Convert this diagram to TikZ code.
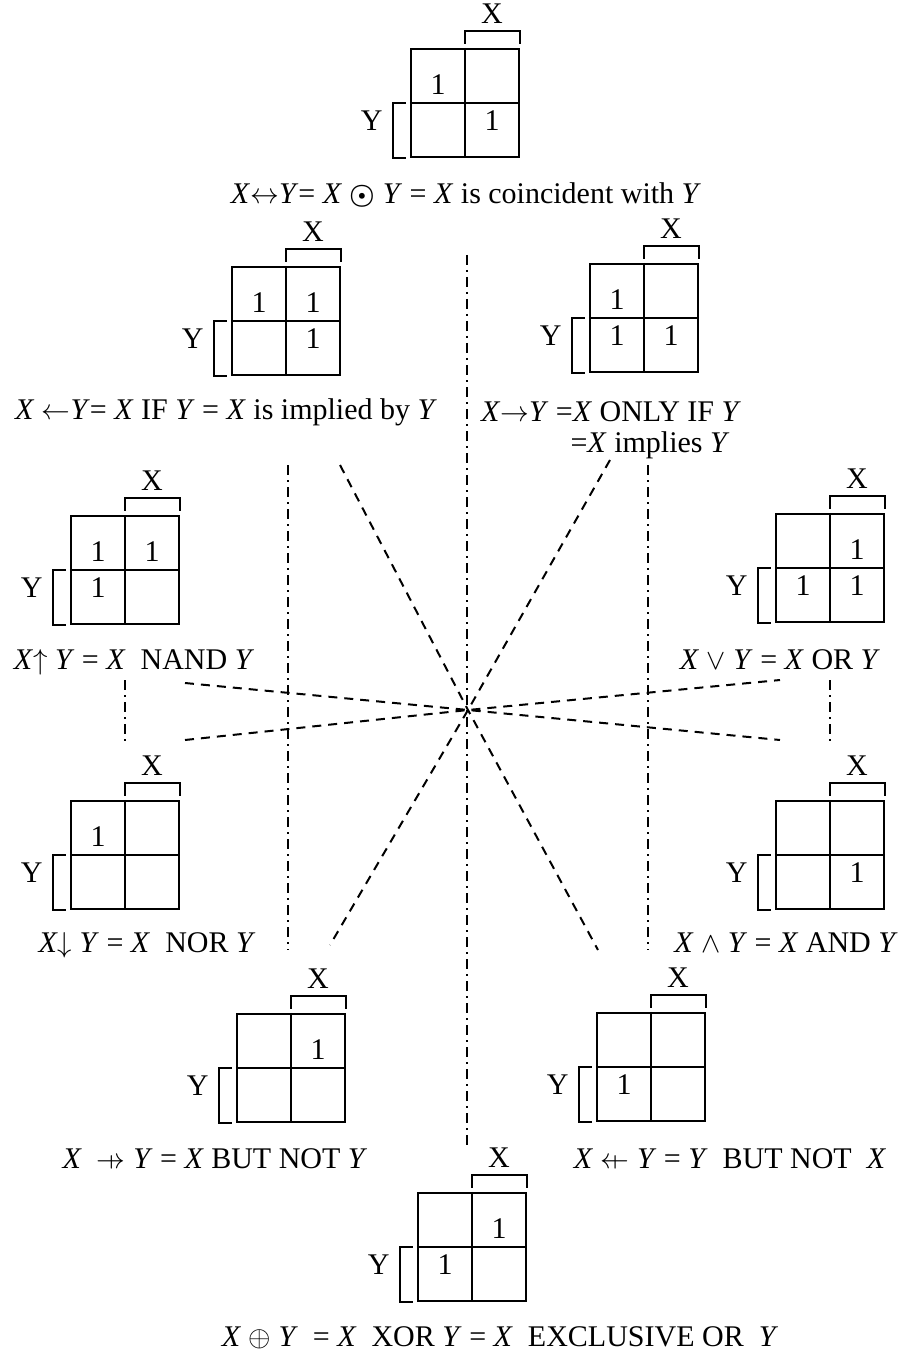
\documentclass[tikz,border=0pt]{standalone}
\usepackage{amsmath,amssymb}
\usepackage{fontspec}
\setmainfont{Liberation Serif}
\usetikzlibrary{calc}
\newcommand{\barto}{\mathrel{\ooalign{$\rightarrow$\cr\hidewidth$\shortmid$\hidewidth\cr}}}
\newcommand{\barfrom}{\mathrel{\ooalign{$\leftarrow$\cr\hidewidth$\shortmid$\hidewidth\cr}}}

\begin{document}
\begin{tikzpicture}[x=0.5pt, y=-0.5pt,
    every node/.style={font=\fontsize{15}{17}\selectfont, inner sep=0pt},
    kbox/.style={draw, line width=1.2pt, minimum size=54pt},
    kline/.style={line width=1.2pt},
    brk/.style={line width=1pt},
    spoke/.style={dash pattern=on 4.5pt off 3.5pt, line width=1pt},
    axis/.style={dash pattern=on 5pt off 2.5pt on 1pt off 2.5pt, line width=0.8pt}]
    \useasboundingbox (0,0) rectangle (900,1353);

    % Karnaugh maps: name/x/y/cells (top left, top right, bottom left, bottom right)
    \foreach \n/\px/\py/\a/\b/\c/\d in {eqv/465/103/1/{}/{}/1, if/286/321/1/1/{}/1, onlyif/644/318/1/{}/1/1,
        nand/125/570/1/1/1/{}, or/830/568/{}/1/1/1, nor/125/855/1/{}/{}/{}, and/830/855/{}/{}/{}/1,
        xny/291/1068/{}/1/{}/{}, ynx/651/1067/{}/{}/1/{}, xor/472/1247/{}/1/1/{}} {
        \node[kbox] (m\n) at (\px,\py) {};
        \draw[kline] (m\n.north) -- (m\n.south) (m\n.west) -- (m\n.east);
        \draw[brk] ([yshift=2pt]m\n.north) -- ++(0,-13) -| ([yshift=2pt]m\n.north east);
        \draw[brk] ([xshift=-2pt]m\n.west) -- ++(-13,0) |- ([xshift=-2pt]m\n.south west);
        \node (x\n) at ($(m\n.north)+(27,-34)$) {X};
        \node (y\n) at ($(m\n.west)+(-38,18)$) {Y};
        \node (a\n) at ($(m\n)+(-27,-18)$) {\a};
        \node (b\n) at ($(m\n)+(27,-18)$) {\b};
        \node (c\n) at ($(m\n)+(-27,18)$) {\c};
        \node (d\n) at ($(m\n)+(27,18)$) {\d};
    }

    % Names of the operations
    \node (leqv) at (466,195) {\textit{X}$\leftrightarrow$\textit{Y}= \textit{X} $\boldsymbol{\odot}$ \textit{Y} = \textit{X} is coincident with \textit{Y}};
    \node (lif) at (226,412) {\textit{X} $\leftarrow$\textit{Y}= \textit{X} IF \textit{Y} = \textit{X} is implied by \textit{Y}};
    \node (lonlyif) at (611,412) {\textit{X}$\rightarrow$\textit{Y} =\textit{X} ONLY IF \textit{Y}};
    \node (lonlyif2) at (650,445) {=\textit{X} implies \textit{Y}};
    \node (lnand) at (134,662) {\textit{X}$\uparrow$ \textit{Y} = \textit{X} \ NAND \textit{Y}};
    \node (lor) at (780,660) {\textit{X} $\vee$ \textit{Y} = \textit{X} OR \textit{Y}};
    \node (lnor) at (147,945) {\textit{X}$\downarrow$ \textit{Y} = \textit{X} \ NOR \textit{Y}};
    \node (land) at (786,943) {\textit{X} $\wedge$ \textit{Y} = \textit{X} AND \textit{Y}};
    \node (lxny) at (215,1160) {\textit{X} \ $\barto$ \textit{Y} = \textit{X} BUT NOT \textit{Y}};
    \node (lynx) at (730,1160) {\textit{X} $\barfrom$ \textit{Y} = \textit{Y} \ BUT NOT \ \textit{X}};
    \node (lxor) at (500,1338) {\textit{X} $\oplus$ \textit{Y} \ = \textit{X} \ XOR \textit{Y} = \textit{X} \ EXCLUSIVE OR \ \textit{Y}};

    % Spokes through the centre
    \coordinate (ctr) at (468,710);
    \coordinate (s1a) at (340,465); \coordinate (s1b) at (598,950);
    \coordinate (s2a) at (610,460); \coordinate (s2b) at (330,945);
    \coordinate (s3a) at (185,683); \coordinate (s3b) at (780,740);
    \coordinate (s4a) at (185,740); \coordinate (s4b) at (780,680);
    \draw[spoke] (s1a) -- (ctr) -- (s1b);
    \draw[spoke] (s2a) -- (ctr) -- (s2b);
    \draw[spoke] (s3a) -- (ctr) -- (s3b);
    \draw[spoke] (s4a) -- (ctr) -- (s4b);

    % Dash-dot axes
    \coordinate (v0a) at (467,255); \coordinate (v0b) at (467,1145);
    \coordinate (v1a) at (288,465); \coordinate (v1b) at (288,950);
    \coordinate (v2a) at (648,465); \coordinate (v2b) at (648,950);
    \coordinate (v3a) at (125,680); \coordinate (v3b) at (125,742);
    \coordinate (v4a) at (830,680); \coordinate (v4b) at (830,742);
    \foreach \v in {0,...,4} {
        \draw[axis] (v\v a) -- (v\v b);
    }
\end{tikzpicture}
\end{document}
